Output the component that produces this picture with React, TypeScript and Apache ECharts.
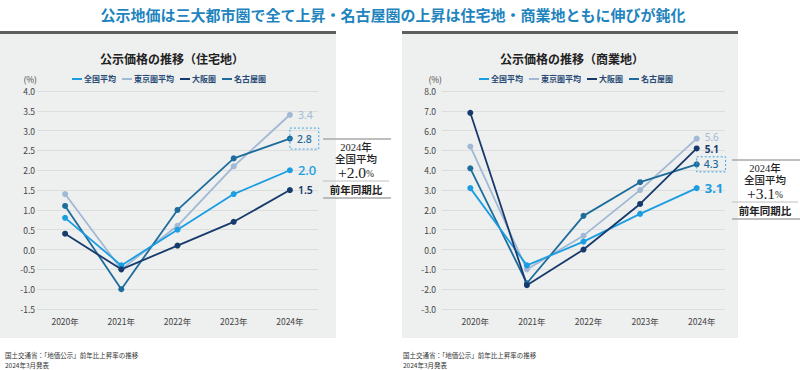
import React, { useEffect, useRef } from 'react';
import * as echarts from 'echarts';

const years = ['2020年', '2021年', '2022年', '2023年', '2024年'];
const seriesNames = ['全国平均', '東京圏平均', '大阪圏', '名古屋圏'];

// 住宅地
const resNational = [0.8, -0.4, 0.5, 1.4, 2.0];
const resTokyo = [1.4, -0.5, 0.6, 2.1, 3.4];
const resOsaka = [0.4, -0.5, 0.1, 0.7, 1.5];
const resNagoya = [1.1, -1.0, 1.0, 2.3, 2.8];

// 商業地
const comNational = [3.1, -0.8, 0.4, 1.8, 3.1];
const comTokyo = [5.2, -1.0, 0.7, 3.0, 5.6];
const comOsaka = [6.9, -1.8, 0.0, 2.3, 5.1];
const comNagoya = [4.1, -1.7, 1.7, 3.4, 4.3];

const resAxis = { min: -1.5, max: 4.0, interval: 0.5 };
const comAxis = { min: -3, max: 8, interval: 1 };

const mainTitle = '公示地価は三大都市圏で全て上昇・名古屋圏の上昇は住宅地・商業地ともに伸びが鈍化';
const resTitle = '公示価格の推移（住宅地）';
const comTitle = '公示価格の推移（商業地）';
const source1 = '国土交通省：「地価公示」前年比上昇率の推移';
const source2 = '2024年3月発表';

const COLORS = {
  national: '#1b9de2',
  tokyo: '#a1b9d4',
  osaka: '#173a6c',
  nagoya: '#1e6c9c',
};

const FONT = '"Noto Sans CJK JP", "Noto Sans", sans-serif';
const SERIF = '"Liberation Serif", "DejaVu Serif", "Noto Sans CJK JP", serif';

function lineSeries(name: string, data: number[], color: string, idx: number, label: any) {
  return {
    type: 'line',
    name,
    xAxisIndex: idx,
    yAxisIndex: idx,
    data,
    symbol: 'circle',
    symbolSize: 6,
    color,
    lineStyle: { color, width: 1.8 },
    itemStyle: { color },
    endLabel: {
      show: true,
      fontFamily: '"Noto Sans", sans-serif',
      formatter: (p: any) => Number(p.value).toFixed(1),
      ...label,
    },
  };
}

function annotation(cx: number, x1: number, x2: number, yTop: number, value: number) {
  const lc = '#a8a8a8';
  return [
    { type: 'line', shape: { x1, y1: yTop, x2, y2: yTop }, style: { stroke: lc, lineWidth: 1.5 } },
    { type: 'text', x: cx, y: yTop + 8, style: { text: '2024年', font: `500 10.5px ${SERIF}`, fill: '#222', align: 'center', verticalAlign: 'middle' } },
    { type: 'text', x: cx, y: yTop + 20, style: { text: '全国平均', font: `500 10.5px ${SERIF}`, fill: '#222', align: 'center', verticalAlign: 'middle' } },
    {
      type: 'text', x: cx, y: yTop + 33.5,
      style: {
        text: `{a|+${value.toFixed(1)}}{b|%}`,
        align: 'center', verticalAlign: 'middle',
        rich: {
          a: { fontFamily: SERIF, fontSize: 15.5, fill: '#222', color: '#222' },
          b: { fontFamily: SERIF, fontSize: 9.5, fill: '#222', color: '#222', padding: [3, 0, 0, 0] },
        },
      },
    },
    { type: 'line', shape: { x1, y1: yTop + 42, x2: x2 - 2, y2: yTop + 42 }, style: { stroke: '#c0c0c0', lineWidth: 1 } },
    { type: 'text', x: cx, y: yTop + 51, style: { text: '前年同期比', font: `bold 10.5px ${SERIF}`, fill: '#222', align: 'center', verticalAlign: 'middle' } },
    { type: 'line', shape: { x1, y1: yTop + 59, x2, y2: yTop + 59 }, style: { stroke: lc, lineWidth: 1.5 } },
  ];
}

function panel(x: number) {
  return [
    { type: 'rect', z: -10, shape: { x, y: 33, width: 336, height: 305 }, style: { fill: '#eeefef' } },
    { type: 'rect', z: -10, shape: { x, y: 31, width: 336, height: 3 }, style: { fill: '#5f5f5f' } },
  ];
}

export default function App() {
  const ref = useRef<HTMLDivElement>(null);

  useEffect(() => {
    if (!ref.current) return;
    const chart = echarts.init(ref.current, undefined, { renderer: 'svg' });

    const xAxisBase = (gridIndex: number, pad: number) => ({
      type: 'category',
      gridIndex,
      data: years,
      boundaryGap: true,
      axisLine: { show: false },
      axisTick: { show: false },
      axisLabel: { color: '#444', fontSize: 8.5, fontFamily: FONT, margin: 8, padding: [0, 0, 0, pad] },
      splitLine: { show: false },
    });
    const yAxisBase = (gridIndex: number, ax: any, margin: number) => ({
      type: 'value',
      gridIndex,
      min: ax.min,
      max: ax.max,
      interval: ax.interval,
      name: '(%)',
      nameLocation: 'end',
      nameGap: 8,
      nameTextStyle: { color: '#444', fontSize: 8.5, fontFamily: FONT, align: 'right' },
      axisLine: { show: false },
      axisTick: { show: false },
      axisLabel: { color: '#444', fontSize: 8.5, fontFamily: FONT, margin, formatter: (v: number) => v.toFixed(1) },
      splitLine: { show: true, lineStyle: { color: '#dcdede', width: 1 } },
    });

    const boxLabel = (pad: number[]) => ({
      color: COLORS.nagoya,
      fontSize: 10.5,
      fontWeight: 500,
      distance: 0,
      borderType: [2, 2],
      borderColor: '#3aa6e4',
      borderWidth: 1,
      padding: pad,
    });

    const legendBase = (left: number) => ({
      data: seriesNames,
      left,
      top: 70,
      icon: 'rect',
      itemWidth: 10,
      itemHeight: 2,
      itemGap: 6,
      textStyle: { fontSize: 8, fontWeight: 'bold', color: '#264a74', fontFamily: FONT, padding: [0, 0, 0, -3] },
    });

    const option: any = {
      animation: false,
      textStyle: { fontFamily: FONT },
      title: [
        { text: resTitle, left: 167, top: 47, textAlign: 'center', textStyle: { fontSize: 12, fontWeight: 'bold', color: '#222', fontFamily: FONT } },
        { text: comTitle, left: 567, top: 47, textAlign: 'center', textStyle: { fontSize: 12, fontWeight: 'bold', color: '#222', fontFamily: FONT } },
      ],
      legend: [legendBase(67), legendBase(474)],
      grid: [
        { left: 37, width: 281, top: 91, height: 218 },
        { left: 442, width: 283, top: 91, height: 218 },
      ],
      xAxis: [xAxisBase(0, 0), xAxisBase(1, 10)],
      yAxis: [yAxisBase(0, resAxis, 2), yAxisBase(1, comAxis, 6)],
      series: [
        lineSeries(seriesNames[1], resTokyo, COLORS.tokyo, 0, { color: COLORS.tokyo, fontSize: 10.5 }),
        lineSeries(seriesNames[3], resNagoya, COLORS.nagoya, 0, boxLabel([5, 7, 5, 7])),
        lineSeries(seriesNames[0], resNational, COLORS.national, 0, { color: COLORS.national, fontSize: 13, fontWeight: 500 }),
        lineSeries(seriesNames[2], resOsaka, COLORS.osaka, 0, { color: COLORS.osaka, fontSize: 10.5, fontWeight: 600 }),
        lineSeries(seriesNames[1], comTokyo, COLORS.tokyo, 1, { color: COLORS.tokyo, fontSize: 10, lineHeight: 10, offset: [0, -2] }),
        lineSeries(seriesNames[3], comNagoya, COLORS.nagoya, 1, boxLabel([2, 7, 2, 7])),
        lineSeries(seriesNames[0], comNational, COLORS.national, 1, { color: COLORS.national, fontSize: 13, fontWeight: 'bold' }),
        lineSeries(seriesNames[2], comOsaka, COLORS.osaka, 1, { color: COLORS.osaka, fontSize: 10, fontWeight: 'bold', lineHeight: 10, offset: [0, 1] }),
      ],
      graphic: [
        ...panel(0),
        ...panel(402),
        { type: 'text', x: 393, y: 14, style: { text: mainTitle, font: `bold 15px ${FONT}`, fill: '#1f84be', align: 'center', verticalAlign: 'middle' } },
        ...annotation(356, 323, 391, 139, resNational[4]),
        ...annotation(765, 732, 800, 160, comNational[4]),
        { type: 'text', x: 5, y: 355, style: { text: source1, font: `6.5px ${FONT}`, fill: '#333', verticalAlign: 'middle' } },
        { type: 'text', x: 5, y: 365, style: { text: source2, font: `6.5px ${FONT}`, fill: '#333', verticalAlign: 'middle' } },
        { type: 'text', x: 403, y: 355, style: { text: source1, font: `6.5px ${FONT}`, fill: '#333', verticalAlign: 'middle' } },
        { type: 'text', x: 403, y: 365, style: { text: source2, font: `6.5px ${FONT}`, fill: '#333', verticalAlign: 'middle' } },
      ],
    };

    chart.setOption(option);
    return () => chart.dispose();
  }, []);

  return <div ref={ref} style={{ position: 'fixed', left: 0, top: 0, width: 800, height: 370, background: '#fff' }} />;
}
